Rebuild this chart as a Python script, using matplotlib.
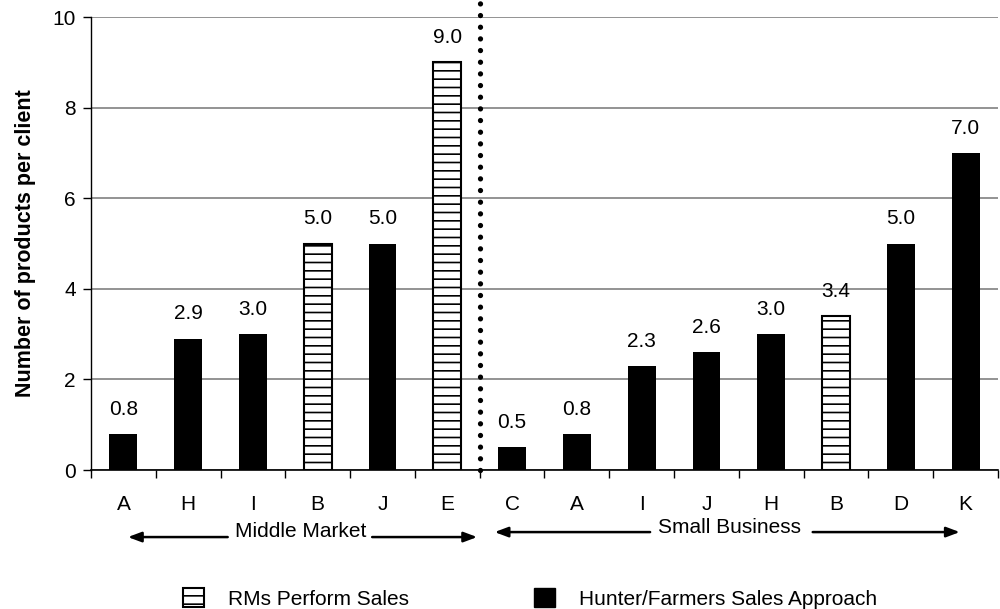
import matplotlib
matplotlib.use("Agg")
import matplotlib.pyplot as plt
from matplotlib.patches import Patch
import matplotlib.transforms as mtransforms

plt.rcParams['font.family'] = ['Liberation Sans', 'DejaVu Sans']
plt.rcParams['hatch.linewidth'] = 1.2

# client groups
mm_labels = ['A', 'H', 'I', 'B', 'J', 'E']
mm_values = [0.8, 2.9, 3.0, 5.0, 5.0, 9.0]
mm_rms = [False, False, False, True, False, True]

sb_labels = ['C', 'A', 'I', 'J', 'H', 'B', 'D', 'K']
sb_values = [0.5, 0.8, 2.3, 2.6, 3.0, 3.4, 5.0, 7.0]
sb_rms = [False, False, False, False, False, True, False, False]

labels = mm_labels + sb_labels
values = mm_values + sb_values
rms = mm_rms + sb_rms
n = len(labels)
fs = 15

fig = plt.figure(figsize=(10, 6.09), dpi=100)
ax = fig.add_axes([0.091, 0.2282, 0.907, 0.7438])

for i, (v, r) in enumerate(zip(values, rms)):
    if r:
        ax.bar(i, v, width=0.43, facecolor='white', edgecolor='black',
               hatch='--', linewidth=1.5, zorder=3)
    else:
        ax.bar(i, v, width=0.43, color='black', zorder=3)
    ax.annotate(f'{v:.1f}', (i, v), xytext=(0, 11), textcoords='offset points',
                ha='center', va='bottom', fontsize=fs)

ax.set_xlim(-0.5, n - 0.5)
ax.set_ylim(0, 10)
ax.set_yticks(range(0, 11, 2))
ax.yaxis.grid(True, color='#808080', linewidth=1.2, zorder=0)
ax.set_axisbelow(True)

# category labels centred, ticks at the boundaries
ax.set_xticks(range(n))
ax.set_xticklabels(labels, fontsize=fs)
ax.tick_params(axis='x', which='major', length=0, pad=18)
ax.set_xticks([i - 0.5 for i in range(n + 1)], minor=True)
ax.tick_params(axis='x', which='minor', length=6, width=1, direction='out')
ax.tick_params(axis='y', labelsize=fs, length=6, width=1, direction='out', pad=5)

for s in ['top', 'right']:
    ax.spines[s].set_visible(False)
ax.spines['left'].set_linewidth(1)
ax.spines['bottom'].set_linewidth(1.2)

ax.set_ylabel('Number of products per client', fontsize=15.5, fontweight='bold', labelpad=12)

# dotted divider between the two segments
ax.plot([len(mm_labels) - 0.5] * 2, [0, 10.3], color='black', linewidth=3.8,
        linestyle=(0, (0.01, 2.2)), dash_capstyle='round', clip_on=False, zorder=4)

# segment captions with arrows
tr = mtransforms.blended_transform_factory(ax.transData, ax.transAxes)
arrow = dict(arrowstyle='-|>,head_length=0.8,head_width=0.3', color='black',
             linewidth=1.8, shrinkA=0, shrinkB=0)

ax.text(2.74, -0.135, 'Middle Market', transform=tr, ha='center', va='center', fontsize=fs)
ax.annotate('', xy=(0.07, -0.148), xytext=(1.61, -0.148), xycoords=tr, textcoords=tr,
            arrowprops=arrow, annotation_clip=False)
ax.annotate('', xy=(5.46, -0.148), xytext=(3.84, -0.148), xycoords=tr, textcoords=tr,
            arrowprops=arrow, annotation_clip=False)

ax.text(9.35, -0.126, 'Small Business', transform=tr, ha='center', va='center', fontsize=fs)
ax.annotate('', xy=(5.73, -0.137), xytext=(8.13, -0.137), xycoords=tr, textcoords=tr,
            arrowprops=arrow, annotation_clip=False)
ax.annotate('', xy=(12.91, -0.137), xytext=(10.64, -0.137), xycoords=tr, textcoords=tr,
            arrowprops=arrow, annotation_clip=False)

handles = [Patch(facecolor='white', edgecolor='black', hatch='--', linewidth=1.5),
           Patch(facecolor='black', edgecolor='black')]
fig.legend(handles, ['RMs Perform Sales', 'Hunter/Farmers Sales Approach'],
           loc='center left', bbox_to_anchor=(0.183, 0.017), ncol=2, frameon=False,
           fontsize=fs, handlelength=1.0, handleheight=1.0, handletextpad=1.15,
           columnspacing=6.0, borderpad=0, borderaxespad=0)

fig.savefig('out.png', dpi=100)
